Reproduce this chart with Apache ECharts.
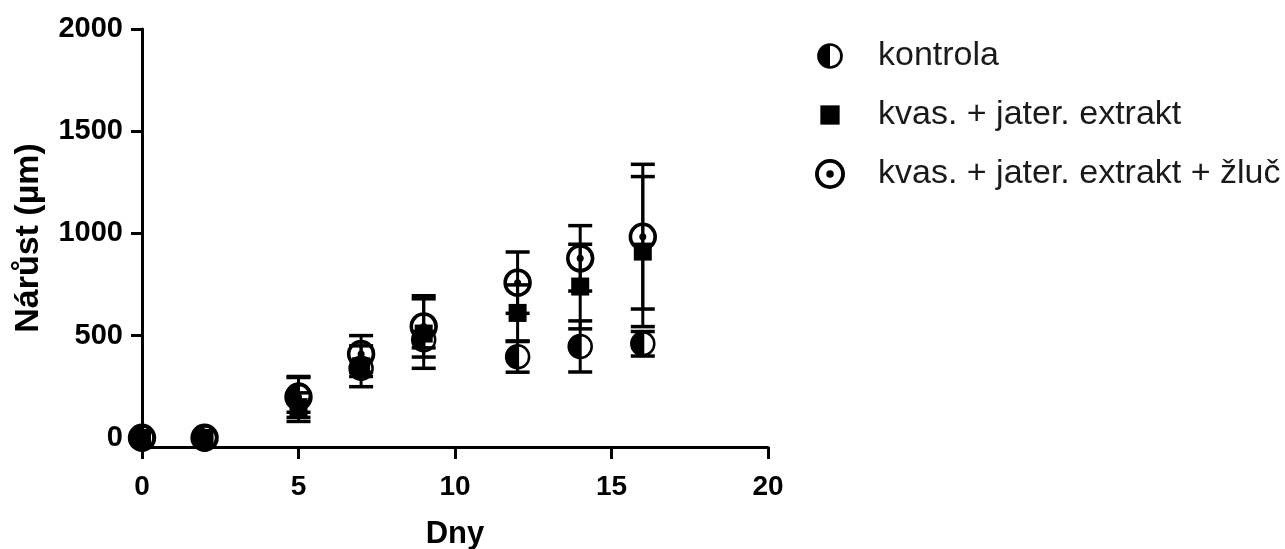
<!DOCTYPE html>
<html>
<head>
<meta charset="utf-8">
<script src="https://cdn.jsdelivr.net/npm/echarts@6/dist/echarts.min.js"></script>
<style>
html,body{margin:0;padding:0;background:#fff;}
#chart{width:1285px;height:549px;}
</style>
</head>
<body>
<div id="chart"></div>
<script>
// ---- data ----
var days = [0, 2, 5, 7, 9, 12, 14, 16];
var seriesNames = ['kontrola', 'kvas. + jater. extrakt', 'kvas. + jater. extrakt + žluč'];
var kontrolaMean = [0, 0, 210, 340, 480, 396, 447, 460];
var kontrolaSD   = [0, 0, 85, 40, 40, 75, 125, 60];
var kvasMean     = [0, 0, 150, 350, 510, 611, 740, 911];
var kvasSD       = [0, 0, 70, 100, 170, 137, 207, 367];
var zlucMean     = [0, 0, 200, 410, 545, 759, 878, 984];
var zlucSD       = [0, 0, 100, 90, 150, 150, 160, 354];
var yTicks = [0, 500, 1000, 1500, 2000];
var xTicks = [0, 5, 10, 15, 20];

function rows(mean, sd) {
  return days.map(function (d, i) { return [d, mean[i], sd[i]]; });
}

var FONT = '"Liberation Sans", Arial, sans-serif';
var INK = '#000';

function errorBar(api, x, m, s) {
  var out = [];
  if (!s) return out;
  var top = api.coord([x, m + s]);
  var bot = api.coord([x, m - s]);
  var half = 12;
  out.push({type: 'line', shape: {x1: top[0], y1: top[1], x2: bot[0], y2: bot[1]}, style: {stroke: INK, lineWidth: 3}});
  out.push({type: 'line', shape: {x1: top[0] - half, y1: top[1], x2: top[0] + half, y2: top[1]}, style: {stroke: INK, lineWidth: 3.5}});
  out.push({type: 'line', shape: {x1: bot[0] - half, y1: bot[1], x2: bot[0] + half, y2: bot[1]}, style: {stroke: INK, lineWidth: 3.5}});
  return out;
}

function makeRender(kind) {
  return function (params, api) {
    var x = api.value(0), m = api.value(1), s = api.value(2);
    var c = api.coord([x, m]);
    var children = errorBar(api, x, m, s);
    if (kind === 'half') {
      children.push({type: 'circle', shape: {cx: c[0], cy: c[1], r: 11.5}, style: {fill: 'none', stroke: INK, lineWidth: 2.5}});
      children.push({type: 'sector', shape: {cx: c[0], cy: c[1], r0: 0, r: 11.5, startAngle: Math.PI / 2, endAngle: Math.PI * 1.5, clockwise: true}, style: {fill: INK}});
    } else if (kind === 'square') {
      children.push({type: 'rect', shape: {x: c[0] - 9, y: c[1] - 9, width: 18, height: 18}, style: {fill: INK}});
    } else {
      children.push({type: 'circle', shape: {cx: c[0], cy: c[1], r: 12.4}, style: {fill: 'none', stroke: INK, lineWidth: 3.6}});
      children.push({type: 'circle', shape: {cx: c[0], cy: c[1], r: 3.5}, style: {fill: INK}});
    }
    return {type: 'group', children: children};
  };
}

var iconHalf = 'path://M0 0 L0 0 M28 28 L28 28 M14 2 A12 12 0 1 1 14 26 A12 12 0 1 1 14 2 Z M14 4.5 A9.5 9.5 0 1 0 14 23.5 A9.5 9.5 0 1 0 14 4.5 Z M14 4.5 A9.5 9.5 0 0 0 14 23.5 Z';
var iconSquare = 'path://M0 0 L0 0 M28 28 L28 28 M5 5 L23 5 L23 23 L5 23 Z';
var iconRing = 'path://M14 0 A14 14 0 1 1 14 28 A14 14 0 1 1 14 0 Z M14 3.6 A10.4 10.4 0 1 0 14 24.4 A10.4 10.4 0 1 0 14 3.6 Z M14 10.5 A3.5 3.5 0 1 1 14 17.5 A3.5 3.5 0 1 1 14 10.5 Z';

var chart = echarts.init(document.getElementById('chart'), null, {renderer: 'canvas'});
chart.setOption({
  animation: false,
  backgroundColor: '#fff',
  grid: {left: 142, right: 517, top: 29, bottom: 102, containLabel: false, outerBoundsMode: 'none'},
  legend: {
    orient: 'vertical',
    left: 815, top: 39,
    padding: 0,
    itemWidth: 86, itemHeight: 30, itemGap: 25,
    symbolKeepAspect: true,
    selectedMode: false,
    textStyle: {fontFamily: FONT, fontSize: 34, color: '#1a1a1a', lineHeight: 30},
    data: [
      {name: seriesNames[0], icon: iconHalf},
      {name: seriesNames[1], icon: iconSquare},
      {name: seriesNames[2], icon: iconRing}
    ],
    itemStyle: {color: INK}
  },
  xAxis: {
    type: 'value', min: 0, max: 20, interval: 5,
    name: 'Dny', nameLocation: 'middle', nameGap: 72,
    nameTextStyle: {fontFamily: FONT, fontSize: 31, fontWeight: 'bold', color: INK},
    axisLine: {show: true, onZero: false, lineStyle: {color: INK, width: 3}},
    axisTick: {show: true, length: 12, lineStyle: {color: INK, width: 3}, customValues: xTicks},
    axisLabel: {margin: 26, fontFamily: FONT, fontSize: 28, fontWeight: 'bold', color: INK, customValues: xTicks},
    splitLine: {show: false}
  },
  yAxis: {
    type: 'value', min: -45, max: 2000,
    name: 'Nárůst (µm)', nameLocation: 'middle', nameGap: 96,
    nameTextStyle: {fontFamily: FONT, fontSize: 34, fontWeight: 'bold', color: INK},
    axisLine: {show: true, onZero: false, lineStyle: {color: INK, width: 3}},
    axisTick: {show: true, length: 11, lineStyle: {color: INK, width: 3}, customValues: yTicks},
    axisLabel: {margin: 19, fontFamily: FONT, fontSize: 29, fontWeight: 'bold', color: INK, customValues: yTicks,
      formatter: function (v) { return String(v); }},
    splitLine: {show: false}
  },
  series: [
    {name: seriesNames[0], type: 'custom', renderItem: makeRender('half'), data: rows(kontrolaMean, kontrolaSD), itemStyle: {color: INK}, z: 2, clip: false},
    {name: seriesNames[2], type: 'custom', renderItem: makeRender('ring'), data: rows(zlucMean, zlucSD), itemStyle: {color: INK}, z: 3, clip: false},
    {name: seriesNames[1], type: 'custom', renderItem: makeRender('square'), data: rows(kvasMean, kvasSD), itemStyle: {color: INK}, z: 4, clip: false}
  ]
});
</script>
</body>
</html>
